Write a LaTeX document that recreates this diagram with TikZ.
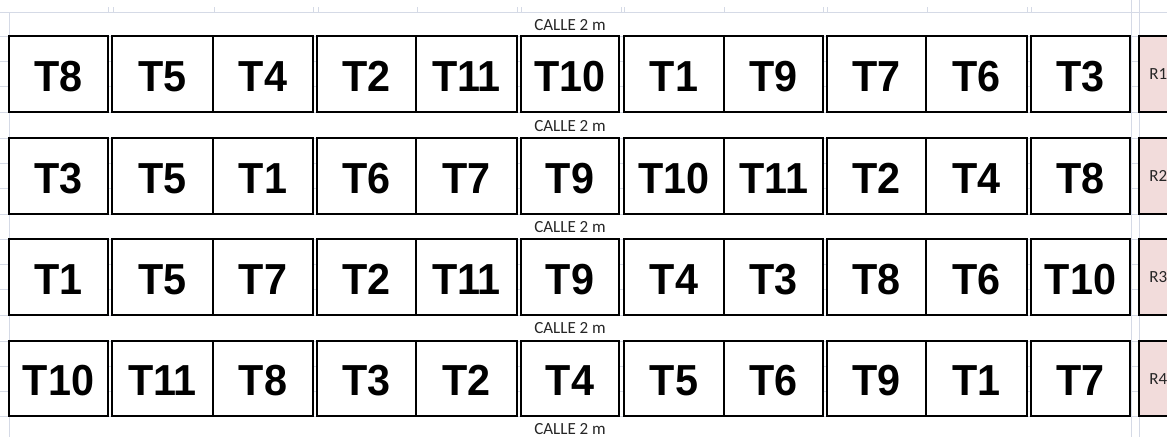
\documentclass[tikz,border=0pt]{standalone}
\usepackage{fontspec}
\setmainfont{Liberation Sans}
\newfontfamily\tfont{Liberation Sans}
\newfontfamily\cfont{Carlito}
\definecolor{gridc}{HTML}{D5DAE6}
\definecolor{rpink}{HTML}{F2DCDB}
\definecolor{txtg}{HTML}{262626}
\begin{document}
\begin{tikzpicture}[x=0.75pt,y=-0.75pt,
  tbox/.style={draw=black,line width=1.5pt,fill=white,inner sep=0pt},
  tlab/.style={inner sep=0pt,anchor=base,font=\tfont\bfseries\fontsize{31pt}{31pt}\selectfont},
  rbox/.style={draw=black,line width=1.5pt,fill=rpink,inner sep=0pt},
  calle/.style={inner sep=0pt,anchor=base,text=txtg,font=\cfont\fontsize{12.75pt}{13pt}\selectfont},
  rlab/.style={inner sep=0pt,anchor=base west,text=txtg,font=\cfont\fontsize{12.75pt}{13pt}\selectfont},
  grid/.style={draw=gridc,line width=0.75pt}]
\useasboundingbox (0,0) rectangle (1167,437);
\fill[white] (0,0) rectangle (1167,437);
% gridlines
\draw[grid] (0,12) -- (1167,12);
\foreach \t/\b in {36/112,138/214,239/315,341/416}{
  \pgfmathsetmacro\ha{\t+(\b-\t)/3}
  \pgfmathsetmacro\hb{\t+2*(\b-\t)/3}
  \draw[grid] (0,\t) -- (1167,\t);
  \draw[grid] (0,\ha) -- (1167,\ha);
  \draw[grid] (0,\hb) -- (1167,\hb);
  \draw[grid] (0,\b) -- (1167,\b);
}
\foreach \t/\b in {12/36,112/138,214/239,315/341,416/437}{
  \fill[white] (10,\t+0.6) rectangle (1130,\b-0.6);
}
\draw[grid] (9.5,12) -- (9.5,437);
\draw[grid] (1131,0) -- (1131,437);
\draw[grid] (1139,0) -- (1139,437);
\foreach \x in {108,113,214,313,318,417,517,521,621,624,724,823,827,927,1027,1031}{
  \draw[grid] (\x,7) -- (\x,12);
}
% boxes
\newcommand\tirow[4]{%
  \foreach \lab [count=\c] in {#4}{
    \pgfmathsetmacro\lx{{9,112,213,317,416,521,624,724,827,926,1031}[\c-1]}
    \pgfmathsetmacro\rx{{108,213,313,416,517,619,724,823,926,1027,1130}[\c-1]}
    \node[tbox,minimum width={(\rx-\lx)*0.75pt},minimum height={(#3-#2)*0.75pt}]
      (r#1c\c) at ({(\lx+\rx)/2},{(#2+#3)/2}) {};
    \node[tlab] (t#1c\c) at ({(\lx+\rx)/2},{(#2+#3)/2+17}) {\scalebox{1}[1.05]{\lab}};
  }
  \node[rbox,minimum width=30pt,minimum height={(#3-#2)*0.75pt}]
    (rb#1) at (1159,{(#2+#3)/2}) {};
  \node[rlab] (rl#1) at (1149,{(#2+#3)/2+5.5}) {R#1};
}
\tirow{1}{36}{112}{T8,T5,T4,T2,T11,T10,T1,T9,T7,T6,T3}
\tirow{2}{138}{214}{T3,T5,T1,T6,T7,T9,T10,T11,T2,T4,T8}
\tirow{3}{239}{315}{T1,T5,T7,T2,T11,T9,T4,T3,T8,T6,T10}
\tirow{4}{341}{416}{T10,T11,T8,T3,T2,T4,T5,T6,T9,T1,T7}
% street labels
\node[calle] (c0) at (570,30.5) {CALLE 2 m};
\node[calle] (c1) at (570,131.5) {CALLE 2 m};
\node[calle] (c2) at (570,232.5) {CALLE 2 m};
\node[calle] (c3) at (570,333.5) {CALLE 2 m};
\node[calle] (c4) at (570,434) {CALLE 2 m};
\end{tikzpicture}
\end{document}
